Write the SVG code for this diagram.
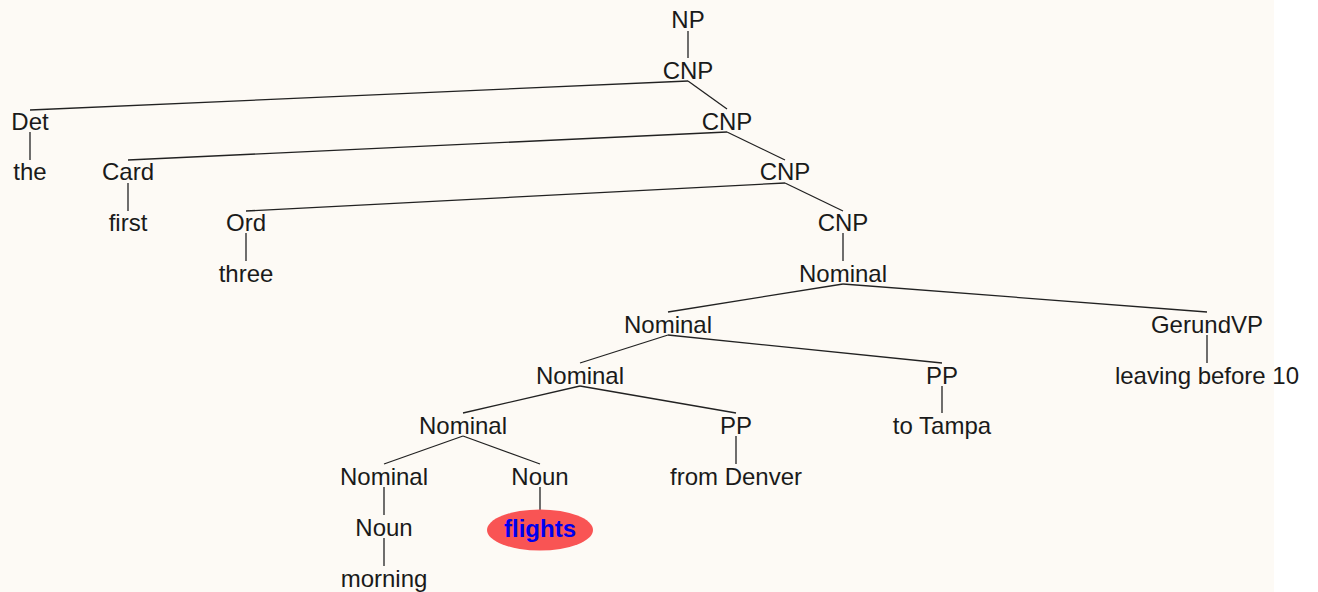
<svg xmlns="http://www.w3.org/2000/svg" width="1318" height="592" viewBox="0 0 1318 592">
<style>
text{font-family:"Liberation Sans",Arial,sans-serif;font-size:24px;fill:#1a1a1a;text-anchor:middle}
.e line{stroke:#222;stroke-width:1.3}
.hl{fill:#0000ee;font-weight:bold}
</style>
<rect x="0" y="0" width="1318" height="592" fill="#ffffff"/>
<rect x="0" y="0" width="1274" height="592" fill="#fdfaf5"/>
<g class="e" id="connectors">
<line x1="688" y1="31" x2="688" y2="58"/>
<line x1="688" y1="81" x2="30" y2="110"/>
<line x1="688" y1="81" x2="727" y2="109"/>
<line x1="30" y1="132" x2="30" y2="160"/>
<line x1="727" y1="132" x2="128" y2="160"/>
<line x1="727" y1="132" x2="785" y2="160"/>
<line x1="128" y1="183" x2="128" y2="211"/>
<line x1="785" y1="183" x2="246" y2="211"/>
<line x1="785" y1="183" x2="843" y2="211"/>
<line x1="246" y1="233" x2="246" y2="261"/>
<line x1="843" y1="233" x2="843" y2="261"/>
<line x1="843" y1="284" x2="668" y2="312"/>
<line x1="843" y1="284" x2="1207" y2="312"/>
<line x1="1207" y1="335" x2="1207" y2="363"/>
<line x1="668" y1="335" x2="580" y2="363"/>
<line x1="668" y1="335" x2="942" y2="363"/>
<line x1="942" y1="386" x2="942" y2="413"/>
<line x1="580" y1="386" x2="463" y2="413"/>
<line x1="580" y1="386" x2="736" y2="413"/>
<line x1="736" y1="436" x2="736" y2="464"/>
<line x1="463" y1="436" x2="384" y2="464"/>
<line x1="463" y1="436" x2="540" y2="464"/>
<line x1="384" y1="487" x2="384" y2="515"/>
<line x1="540" y1="487" x2="540" y2="510"/>
<line x1="384" y1="538" x2="384" y2="566"/>
</g>
<g id="n-np"><text x="688" y="28">NP</text></g>
<g id="n-cnp1"><text x="688" y="79">CNP</text></g>
<g id="n-det"><text x="30" y="130">Det</text></g>
<g id="n-the"><text x="30" y="180">the</text></g>
<g id="n-cnp2"><text x="727" y="130">CNP</text></g>
<g id="n-card"><text x="128" y="180">Card</text></g>
<g id="n-first"><text x="128" y="231">first</text></g>
<g id="n-cnp3"><text x="785" y="180">CNP</text></g>
<g id="n-ord"><text x="246" y="231">Ord</text></g>
<g id="n-three"><text x="246" y="282">three</text></g>
<g id="n-cnp4"><text x="843" y="231">CNP</text></g>
<g id="n-nom1"><text x="843" y="282">Nominal</text></g>
<g id="n-nom2"><text x="668" y="333">Nominal</text></g>
<g id="n-gerund"><text x="1207" y="333">GerundVP</text></g>
<g id="n-leaving"><text x="1207" y="384">leaving before 10</text></g>
<g id="n-nom3"><text x="580" y="384">Nominal</text></g>
<g id="n-pp1"><text x="942" y="384">PP</text></g>
<g id="n-tampa"><text x="942" y="434">to Tampa</text></g>
<g id="n-nom4"><text x="463" y="434">Nominal</text></g>
<g id="n-pp2"><text x="736" y="434">PP</text></g>
<g id="n-denver"><text x="736" y="485">from Denver</text></g>
<g id="n-nom5"><text x="384" y="485">Nominal</text></g>
<g id="n-noun1"><text x="540" y="485">Noun</text></g>
<g id="n-noun2"><text x="384" y="536">Noun</text></g>
<g id="n-flights"><ellipse cx="540" cy="530" rx="53" ry="20.5" fill="#f95454"/><text class="hl" x="540" y="537">flights</text></g>
<g id="n-morning"><text x="384" y="587">morning</text></g>
</svg>
